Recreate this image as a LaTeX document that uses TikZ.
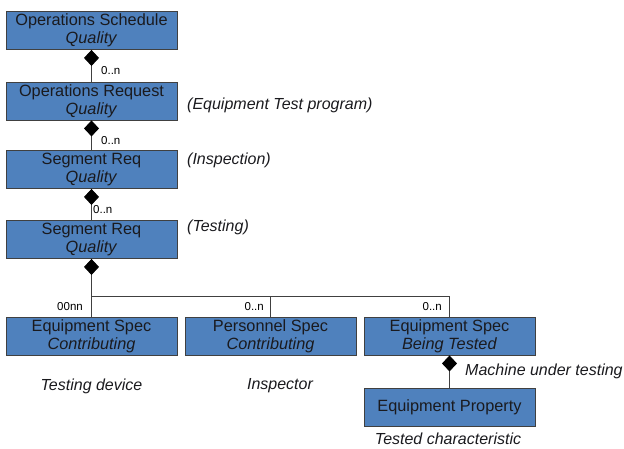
\documentclass[tikz,border=0pt]{standalone}
\usepackage{fontspec}
\setmainfont{Liberation Sans}
\usetikzlibrary{arrows.meta}
\definecolor{boxblue}{RGB}{79,129,189}
\definecolor{edgegray}{RGB}{64,64,64}
\definecolor{txt}{RGB}{26,26,30}
\begin{document}
\begin{tikzpicture}[x=1pt,y=-1pt,
  cls/.style={draw=edgegray, line width=0.9pt, fill=boxblue, minimum width=171pt, minimum height=38pt, inner sep=0pt, align=center, text=txt, font=\fontsize{16.3}{18}\selectfont},
  conn/.style={draw=edgegray, line width=0.9pt},
  comp/.style={conn, {Diamond[length=16pt,width=15pt,fill=black,color=black]}-},
  mult/.style={font=\fontsize{11.5}{13}\selectfont, inner sep=0pt, text=black},
  note/.style={font=\fontsize{16}{18}\itshape, inner sep=0pt, text=txt}
]
\useasboundingbox (0,0) rectangle (624,449);
\node[cls] (b1) at (91.5,30.5) {Operations Schedule\\\textit{Quality}};
\node[cls] (b2) at (91.5,101) {Operations Request\\\textit{Quality}};
\node[cls] (b3) at (91.5,169.5) {Segment Req\\\textit{Quality}};
\node[cls] (b4) at (91.5,239.5) {Segment Req\\\textit{Quality}};
\node[cls] (bA) at (91.5,336) {Equipment Spec\\\textit{Contributing}};
\node[cls] (bB) at (270.5,336) {Personnel Spec\\\textit{Contributing}};
\node[cls] (bC) at (449.5,336) {Equipment Spec\\\textit{Being Tested}};
\node[cls] (bD) at (449.5,407.5) {Equipment Property};
\coordinate (j) at (91.5,296);

\draw[comp] (b1.south) -- (b2.north);
\draw[comp] (b2.south) -- (b3.north);
\draw[comp] (b3.south) -- (b4.north);
\draw[comp] (b4.south) -- (j) -- (bA.north);
\draw[conn] (j) -| (bC.north);
\draw[conn] (bB.north) -- (bB.north |- j);
\draw[comp] (bC.south) -- (bD.north);

\node[mult, anchor=west] (m1) at (101,71) {0..n};
\node[mult, anchor=west] (m2) at (101,141) {0..n};
\node[mult, anchor=west] (m3) at (93,210) {0..n};
\node[mult, anchor=east] (m4) at (83,307) {00nn};
\node[mult, anchor=east] (m5) at (264,307) {0..n};
\node[mult, anchor=east] (m6) at (442,307) {0..n};

\node[note, anchor=west] (n1) at (187,105) {(Equipment Test program)};
\node[note, anchor=west] (n2) at (187,160) {(Inspection)};
\node[note, anchor=west] (n3) at (187,227) {(Testing)};
\node[note] (n4) at (91.5,386) {Testing device};
\node[note] (n5) at (280,386) {Inspector};
\node[note, anchor=west] (n6) at (465,371) {Machine under testing};
\node[note] (n7) at (448,439) {Tested characteristic};
\end{tikzpicture}
\end{document}
